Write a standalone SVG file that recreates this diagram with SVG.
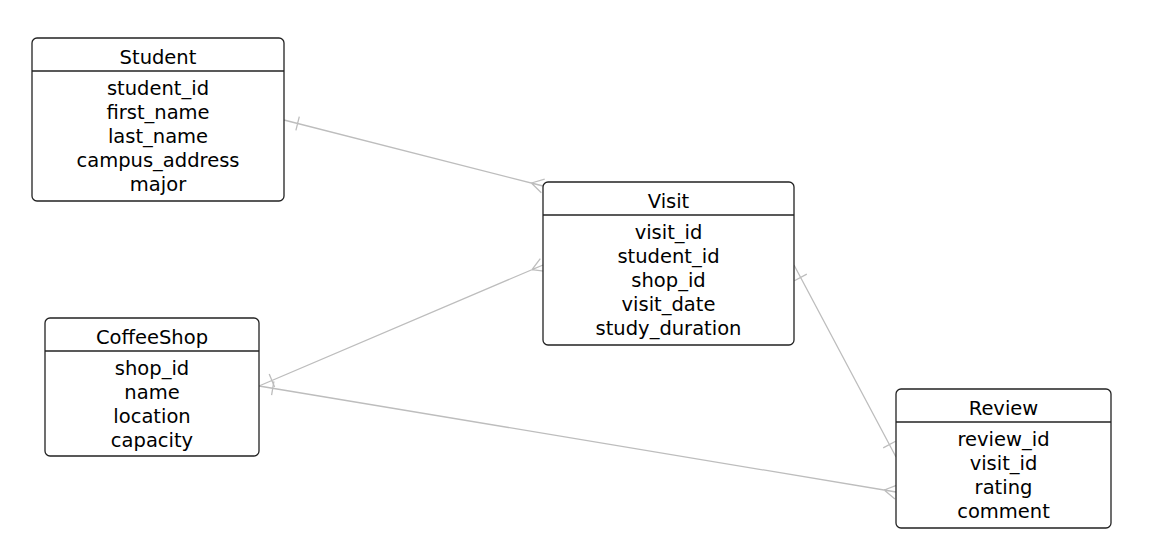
<svg xmlns="http://www.w3.org/2000/svg" width="1165" height="540" viewBox="0 0 1165 540">
<style>
.box{fill:#fff;stroke:#222;stroke-width:1.3}
.div{stroke:#222;stroke-width:1.3}
text{font-family:"DejaVu Sans",Verdana,sans-serif;font-size:19.5px;fill:#000;text-anchor:middle}
.c{stroke:#bdbdbd;stroke-width:1.3;fill:none}
</style>
<rect width="1165" height="540" fill="#fff"/>
<g id="connectors">
<path class="c" d="M284,120 L543,186 M295.9,130.3 L299.3,116.7 M531.4,183 L541.3,192.8 M531.4,183 L543,186 M531.4,183 L544.7,179.2"/>
<path class="c" d="M259,386 L543,265 M274.6,386.9 L269.2,374.1 M532,269.7 L545.7,271.4 M532,269.7 L543,265 M532,269.7 L540.3,258.6"/>
<path class="c" d="M259,386 L896,492 M271.6,395.2 L273.9,381.4 M884.2,490 L894.9,498.9 M884.2,490 L896,492 M884.2,490 L897.1,485.1"/>
<path class="c" d="M794,265 L896,457 M794.4,280.7 L806.8,274.1 M883.2,447.9 L895.6,441.3"/>
</g>
<g id="Student">
<rect class="box" x="32" y="38" width="252" height="163" rx="5"/>
<line class="div" x1="32" y1="71" x2="284" y2="71"/>
<text x="158" y="64">Student</text>
<text x="158" y="95">student_id</text>
<text x="158" y="119">first_name</text>
<text x="158" y="143">last_name</text>
<text x="158" y="167">campus_address</text>
<text x="158" y="191">major</text>
</g>
<g id="Visit">
<rect class="box" x="543" y="182" width="251" height="163" rx="5"/>
<line class="div" x1="543" y1="215" x2="794" y2="215"/>
<text x="668.5" y="208">Visit</text>
<text x="668.5" y="239">visit_id</text>
<text x="668.5" y="263">student_id</text>
<text x="668.5" y="287">shop_id</text>
<text x="668.5" y="311">visit_date</text>
<text x="668.5" y="335">study_duration</text>
</g>
<g id="CoffeeShop">
<rect class="box" x="45" y="318" width="214" height="138" rx="5"/>
<line class="div" x1="45" y1="351" x2="259" y2="351"/>
<text x="152" y="344">CoffeeShop</text>
<text x="152" y="375">shop_id</text>
<text x="152" y="399">name</text>
<text x="152" y="423">location</text>
<text x="152" y="447">capacity</text>
</g>
<g id="Review">
<rect class="box" x="896" y="389" width="215" height="139" rx="5"/>
<line class="div" x1="896" y1="422" x2="1111" y2="422"/>
<text x="1003.5" y="415">Review</text>
<text x="1003.5" y="446">review_id</text>
<text x="1003.5" y="470">visit_id</text>
<text x="1003.5" y="494">rating</text>
<text x="1003.5" y="518">comment</text>
</g>
</svg>
